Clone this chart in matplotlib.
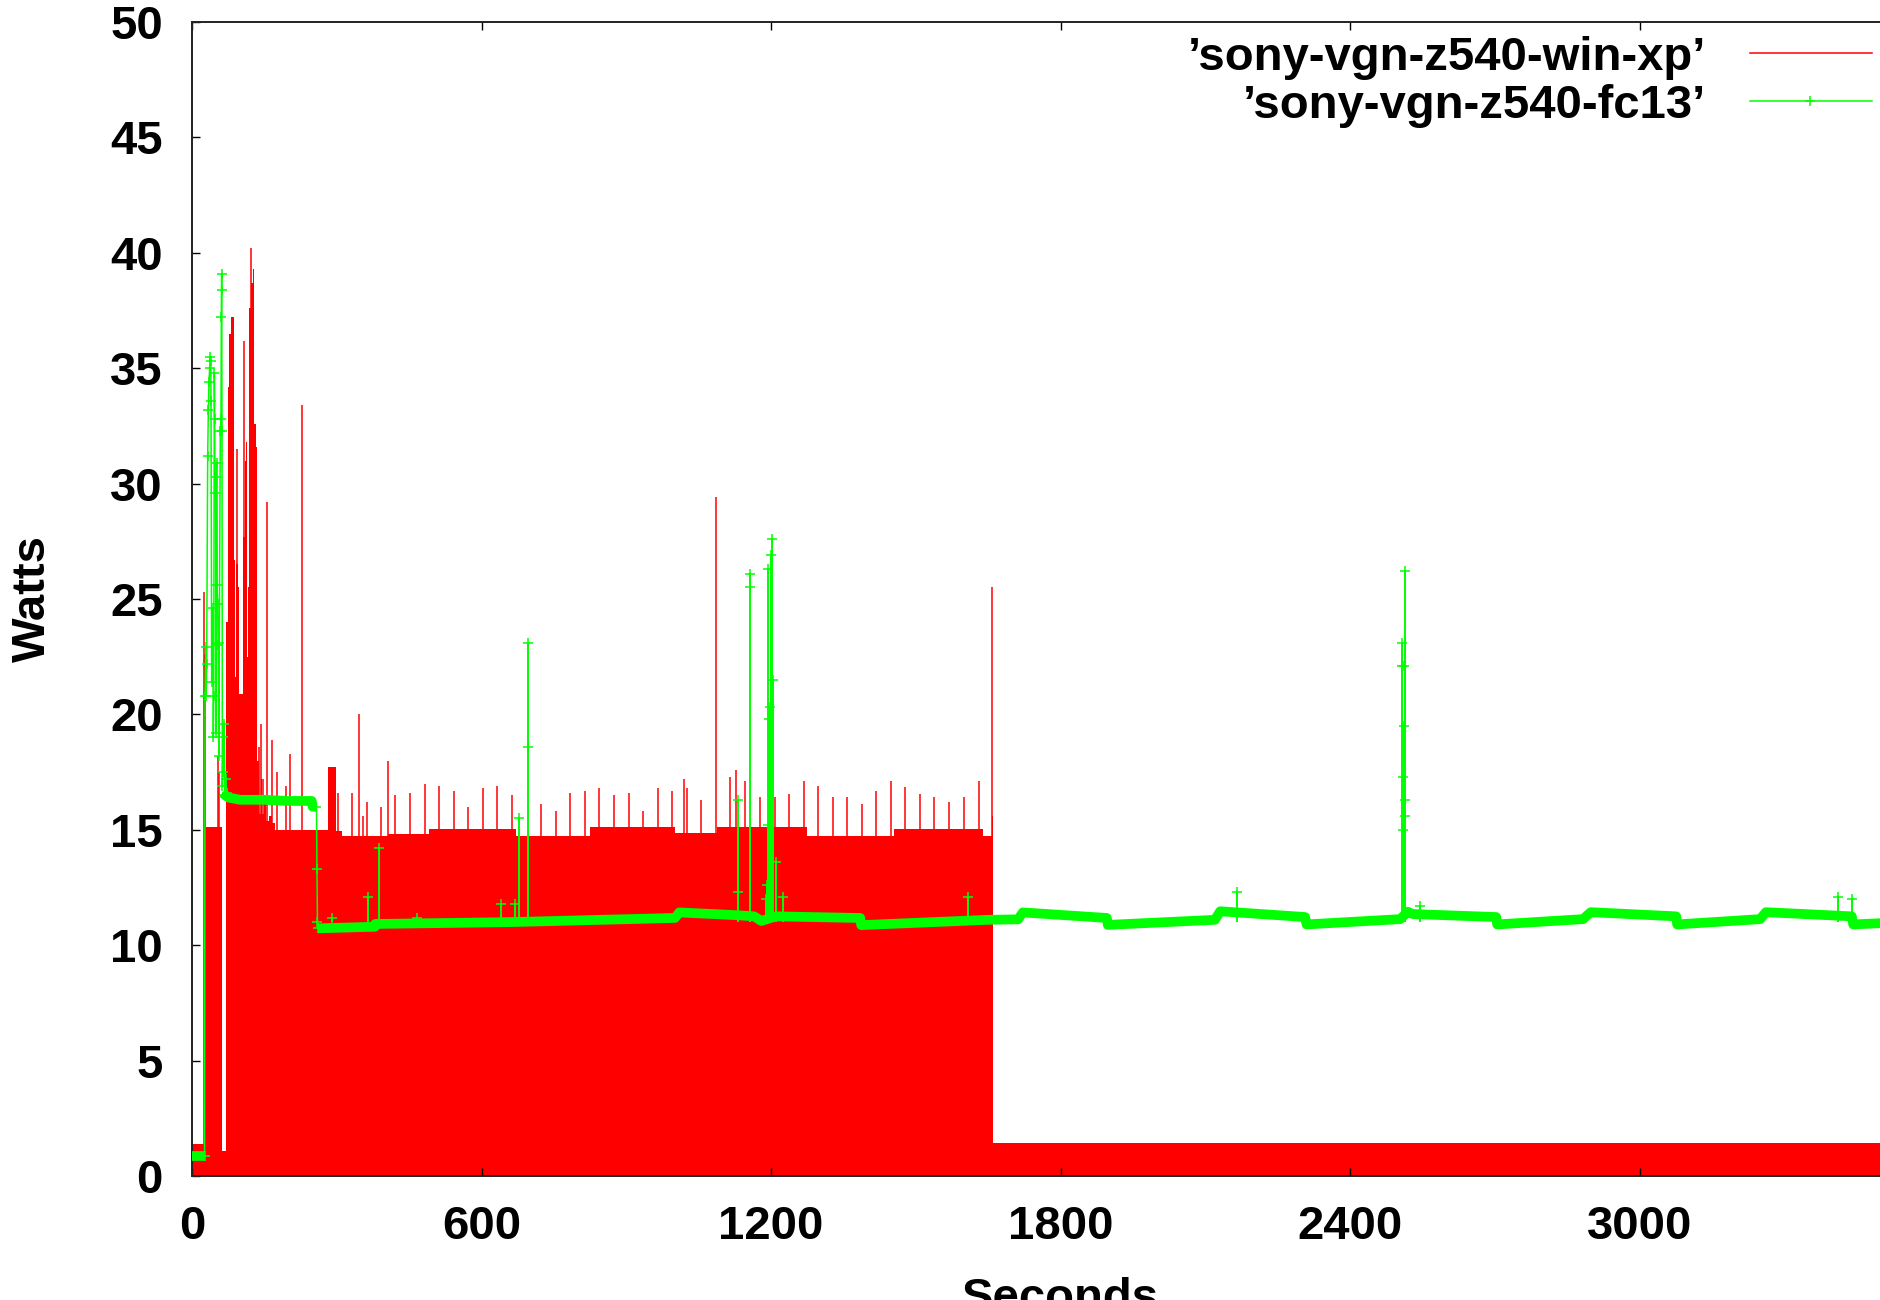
import matplotlib.pyplot as plt
from matplotlib.lines import Line2D

plt.rcParams['font.family'] = ['Liberation Sans', 'DejaVu Sans']
plt.rcParams['font.weight'] = 'bold'

# ---- win-xp run ----
# background power as a step function (start second, watts)
xp_level_t = [0, 25.5, 30, 63, 70, 71.5, 74.5, 76.5, 80.5, 86.5,
              89, 91, 94.6, 97.4, 106, 109.5, 111.5, 114, 116.5, 118.5,
              122, 125.5, 129, 132.5, 134, 138, 143, 146, 150, 153,
              160, 166, 171.5, 173, 282.5, 297.6, 310, 407, 492, 672,
              825, 1001, 1088, 1274, 1455, 1639, 1657, 1659.5, 1661, 3600]
xp_level_w = [1.40, 22.6, 15.1, 1.1, 7.9, 24.0, 34.2, 36.5, 37.2, 26.7,
              21.6, 26.5, 25.5, 20.9, 27.7, 31.0, 31.8, 22.5, 25.5, 37.6,
              38.7, 39.3, 32.6, 31.6, 18.0, 15.7, 17.2, 15.7, 16.4, 15.4,
              15.6, 15.3, 12.8, 15.0, 17.7, 14.96, 14.73, 14.82, 15.03, 14.75,
              15.1, 14.85, 15.13, 14.75, 15.03, 14.75, 15.6, 8.2, 1.43, 1.43]

# single-sample spikes on top of it
xp_spike_t = [25.6, 53, 55, 94, 107.8, 121.6, 138, 143, 148, 156,
              166, 175.6, 195, 204, 227, 302, 331, 347, 355, 362,
              391, 407, 421, 452, 483, 512, 543, 573, 604, 633,
              663, 723, 754, 784, 814, 844, 874, 905, 935, 965,
              995, 1020, 1025, 1055, 1086, 1116, 1127, 1147, 1177, 1208,
              1238, 1268, 1298, 1328, 1358, 1388, 1418, 1448, 1478, 1509,
              1538, 1569, 1600, 1631, 1658]
xp_spike_w = [25.3, 18.2, 17.5, 31.5, 36.2, 40.2, 18.6, 19.6, 17.2, 29.2,
              18.9, 17.5, 16.9, 18.3, 33.4, 16.6, 16.6, 20.0, 15.6, 16.2,
              16.0, 18.0, 16.5, 16.6, 17.0, 16.9, 16.7, 16.0, 16.8, 16.9,
              16.5, 16.1, 15.8, 16.6, 16.7, 16.8, 16.5, 16.6, 15.8, 16.8,
              16.7, 17.2, 16.8, 16.3, 29.4, 17.3, 17.6, 17.1, 16.4, 16.4,
              16.55, 17.1, 16.9, 16.4, 16.4, 16.1, 16.7, 17.1, 16.85, 16.55,
              16.4, 16.2, 16.4, 17.1, 25.5]

# ---- fc13 run ----
fc13_idle_t = [0, 26]
fc13_idle_w = [0.85, 0.85]

# boot burst
fc13_boot_t = [26, 27, 28.3, 29.5, 30.4, 32.5, 33.9, 35.2, 36.6, 37.3,
               38.7, 39.4, 40.8, 42.8, 44.2, 45.0, 46.3, 47.0, 47.7, 49.0,
               50.0, 51.1, 51.8, 53.2, 54.6, 55.5, 56.6, 58.7, 60.1, 60.8,
               61.2, 61.5, 62.2, 62.9, 64.0, 65.0, 66.5, 68.4, 70, 72, 75]
fc13_boot_w = [0.85, 20.8, 22.9, 20.8, 22.2, 31.2, 33.2, 34.4, 35.0, 35.5,
               35.3, 33.6, 21.4, 24.6, 19.0, 20.8, 34.8, 32.8, 29.6, 30.3,
               19.2, 30.9, 25.6, 24.8, 23.0, 18.2, 23.1, 32.3, 32.8, 37.2,
               38.4, 39.1, 32.3, 16.9, 19.0, 17.5, 19.6, 16.5, 17.2, 16.6, 16.4]

fc13_plateau_t = [63, 75, 100, 150, 200, 248, 250, 258]
fc13_plateau_w = [16.6, 16.4, 16.3, 16.3, 16.25, 16.25, 16.0, 16.0]

fc13_drop_t = [258, 259, 260, 261]
fc13_drop_w = [16.0, 13.3, 11.0, 10.73]

fc13_base_t = [261, 379, 380, 659, 1001, 1010, 1130, 1165, 1180, 1195,
               1210, 1385, 1387, 1650, 1712, 1722, 1896, 1898, 2120, 2131,
               2307, 2310, 2504, 2520, 2530, 2703, 2705, 2883, 2899, 3076,
               3078, 3250, 3262, 3440, 3443, 3600]
fc13_base_w = [10.73, 10.8, 10.92, 11.0, 11.18, 11.42, 11.3, 11.25, 11.05, 11.15,
               11.25, 11.18, 10.87, 11.1, 11.12, 11.42, 11.18, 10.88, 11.1, 11.47,
               11.22, 10.9, 11.13, 11.45, 11.35, 11.22, 10.9, 11.13, 11.43, 11.25,
               10.9, 11.13, 11.43, 11.25, 10.9, 11.05]

fc13_spike_t = [290, 365, 388, 466, 640, 670, 677, 696, 1132, 1156.5,
                1189.6, 1192.4, 1194.5, 1196.6, 1198, 1200, 1202.8, 1203.5, 1210, 1225.6,
                1608, 2166, 2508, 2511, 2513, 2545, 3411, 3441]
fc13_spike_w = [11.2, 12.1, 14.2, 11.2, 11.8, 11.8, 15.5, 23.1, 16.3, 26.1,
                12.0, 12.6, 26.3, 19.8, 20.3, 26.9, 27.6, 21.5, 13.6, 12.1,
                12.1, 12.3, 23.1, 19.5, 26.2, 11.7, 12.1, 12.0]
# samples passed on the way up/down a spike
fc13_mark_t = [696, 1132, 1156.5, 1194.5, 2508, 2510, 2513, 2514, 2509, 2512]
fc13_mark_w = [18.6, 12.3, 25.5, 15.2, 22.1, 17.3, 16.3, 15.6, 15.0, 22.1]

RED = '#ff0000'
GREEN = '#00ff00'
FS = 34

W, H = 1880, 1300
fig = plt.figure(figsize=(W / 100, H / 100), dpi=100)
ax = fig.add_axes([192 / W, (H - 1176) / H, (1929 - 192) / W, (1176 - 22) / H])

ax.fill_between(xp_level_t, 0, xp_level_w, step='post', color=RED, lw=0, zorder=1)
ax.vlines(xp_spike_t, 0, xp_spike_w, color=RED, lw=1.1, zorder=1)

band = dict(color=GREEN, lw=7.0, solid_capstyle='butt', zorder=3)
ax.plot(fc13_idle_t, fc13_idle_w, **band)
ax.plot(fc13_plateau_t, fc13_plateau_w, **band)
ax.plot(fc13_base_t, fc13_base_w, **band)
for tt, ww in [(fc13_boot_t, fc13_boot_w), (fc13_drop_t, fc13_drop_w)]:
    ax.plot(tt, ww, color=GREEN, lw=1.1, marker='+', ms=6.5, mew=1.1, zorder=3)
ax.vlines(fc13_spike_t, 11.0, fc13_spike_w, color=GREEN, lw=1.4, zorder=3)
ax.plot(fc13_spike_t, fc13_spike_w, ls='none', color=GREEN, marker='+', ms=6.5, mew=1.1, zorder=3)
ax.plot(fc13_mark_t, fc13_mark_w, ls='none', color=GREEN, marker='+', ms=6.5, mew=1.1, zorder=3)

ax.set_xlim(0, 3600)
ax.set_ylim(0, 50)
ax.set_xticks(range(0, 3001, 600))
ax.set_yticks(range(0, 51, 5))
ax.tick_params(direction='in', length=5.8, width=1.0, top=True, right=False,
               labelsize=FS, pad=21, colors='black')
for lab in ax.get_xticklabels() + ax.get_yticklabels():
    lab.set_fontweight('bold')
for side in ['left', 'top', 'bottom']:
    ax.spines[side].set_linewidth(1.4)
    ax.spines[side].set_color('#222222')
ax.spines['right'].set_visible(False)

ax.set_xlabel('Seconds', fontsize=FS, fontweight='bold', labelpad=20)
ax.set_ylabel('Watts', fontsize=FS, fontweight='bold')
ax.yaxis.set_label_coords(-0.079, 0.5)

# key in the upper right corner, text right-aligned like gnuplot
def key_row(y_px, label, color, marker=None):
    fig.text(1706 / W, 1 - (y_px + 17) / H, label, ha='right', va='baseline',
             fontsize=FS, fontweight='bold')
    fig.add_artist(Line2D([1750 / W, 1872 / W], [1 - y_px / H] * 2, color=color, lw=1.1))
    if marker:
        fig.add_artist(Line2D([1810 / W], [1 - y_px / H], color=color, marker=marker,
                              ms=6.5, mew=1.1))

key_row(53, '\u2019sony-vgn-z540-win-xp\u2019', RED)
key_row(101, '\u2019sony-vgn-z540-fc13\u2019', GREEN, '+')

fig.savefig('out.png', dpi=100)
